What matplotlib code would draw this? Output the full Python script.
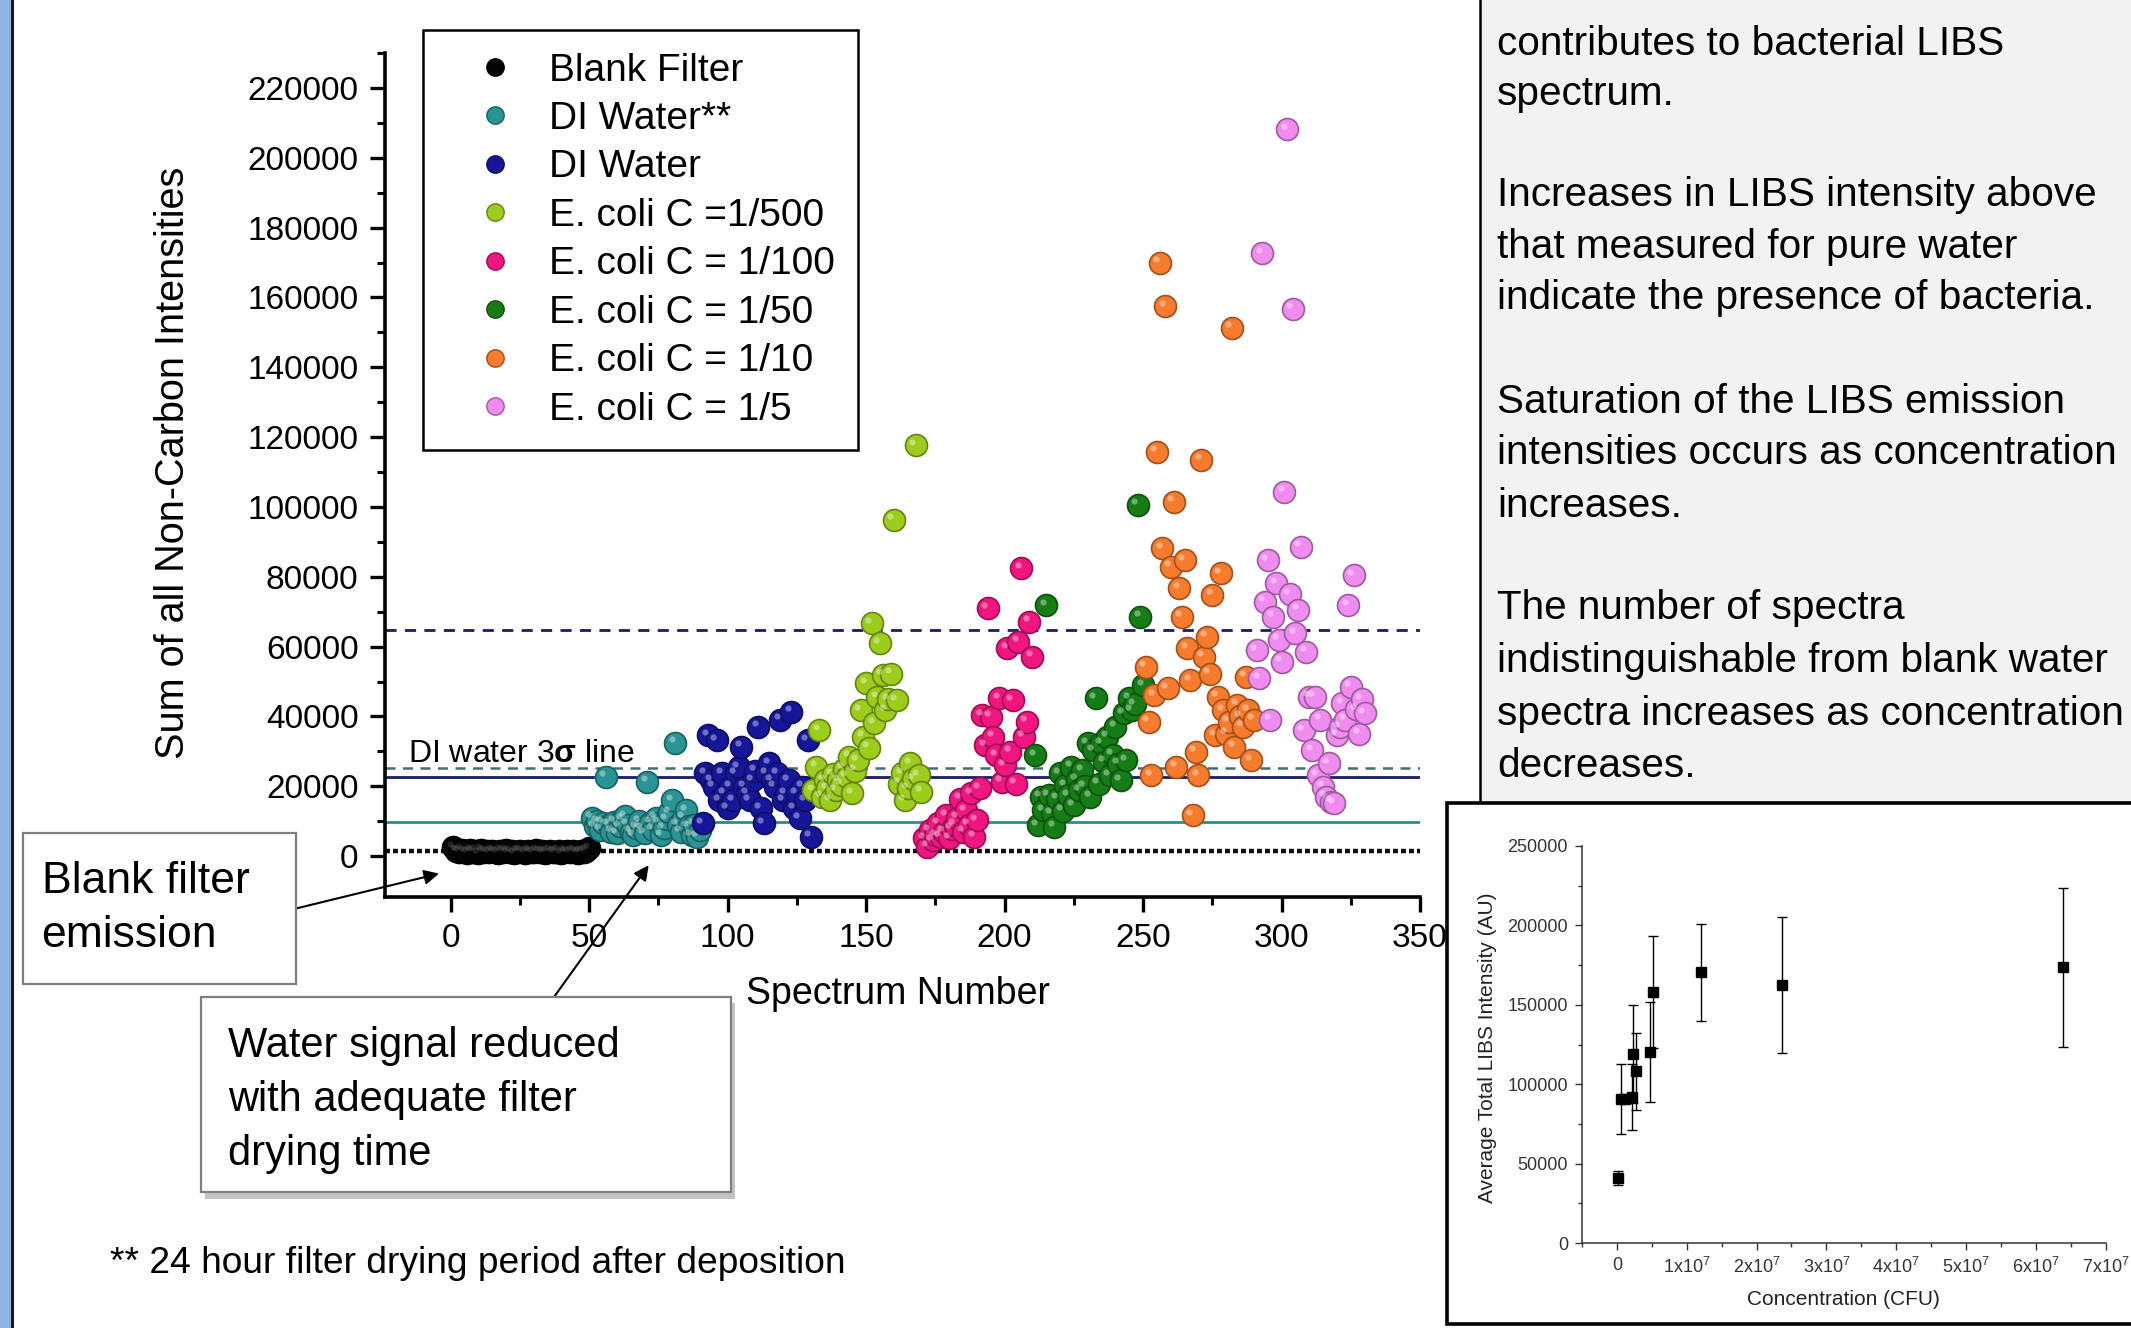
import numpy as np
import matplotlib
matplotlib.use('Agg')
import matplotlib.pyplot as plt
import matplotlib.colors as mcolors
import matplotlib.transforms as mtransforms
from matplotlib.patches import Rectangle
from matplotlib.lines import Line2D
from matplotlib.ticker import FixedLocator, MultipleLocator, FuncFormatter

plt.rcParams['font.family'] = ['Liberation Sans', 'DejaVu Sans']
plt.rcParams['mathtext.fontset'] = 'custom'
plt.rcParams['mathtext.rm'] = 'Liberation Sans'
plt.rcParams['mathtext.it'] = 'Liberation Sans:italic'
plt.rcParams['mathtext.bf'] = 'Liberation Sans:bold'

W, H, DPI = 2131, 1328, 100

# ---------------- data: main scatter ----------------
series_labels = ["Blank Filter", "DI Water**", "DI Water", "E. coli C =1/500",
                 "E. coli C = 1/100", "E. coli C = 1/50", "E. coli C = 1/10", "E. coli C = 1/5"]
series_colors = ['#050505', '#2a9393', '#16169a', '#9ccc1c',
                 '#f0157f', '#167d16', '#f77b2c', '#f08cf0']
series_first_spectrum = [1, 51, 91, 131, 171, 211, 251, 291]

blank_filter = [2600, 1600, 1200, 1900, 1400, 1000, 1700, 1300, 1500, 900,
                1800, 1200, 1400, 1100, 1600, 1300, 1000, 1500, 1200, 1700,
                1100, 1400, 900, 1300, 1600, 1200, 1000, 1500, 1300, 1100,
                1700, 1200, 1400, 1000, 1300, 1600, 1100, 1200, 1500, 900,
                1300, 1400, 1100, 1600, 1200, 1000, 1400, 1300, 1500, 2200]
di_water_dried = [11000, 8500, 10000, 7500, 9500, 22700, 9000, 7000, 9800, 6500,
                  8500, 10500, 11500, 9000, 7000, 6000, 8200, 10000, 8000, 6500,
                  21300, 9500, 7500, 11000, 9500, 6000, 8000, 10500, 12500, 16000,
                  32500, 9000, 7000, 11000, 13200, 8500, 6000, 9000, 5500, 7500]
di_water = [9400, 23700, 34700, 21800, 19900, 33200, 16000, 23700, 18000, 13700,
            19900, 16000, 23700, 25500, 31300, 19900, 18000, 16000, 21800, 24500,
            37000, 13700, 9400, 23700, 26600, 21800, 19900, 23700, 39000, 16000,
            18000, 21800, 41300, 13700, 18000, 10800, 19900, 16000, 33200, 5500]
ecoli_500 = [18900, 25600, 36100, 17000, 21800, 19500, 16000, 23500, 18900, 21800,
             20500, 25000, 22700, 28500, 18000, 24500, 27500, 41800, 34200, 49500,
             31000, 66700, 38000, 45500, 60900, 51900, 41800, 44900, 52300, 96300,
             44700, 20800, 23700, 16000, 19500, 26600, 22000, 117700, 23200, 18500]
ecoli_100 = [5100, 2700, 7400, 4500, 6000, 9400, 5500, 7000, 11700, 5100,
             7900, 9000, 11000, 16500, 7000, 13200, 9000, 18000, 5500, 10300,
             19400, 40400, 31800, 71000, 39900, 34200, 28900, 45200, 21300, 26100,
             59500, 29900, 44700, 20800, 61400, 82400, 34200, 38500, 67100, 57100]
ecoli_50 = [28900, 8900, 17000, 13200, 71900, 17500, 12300, 8400, 16500, 23700,
            13000, 20300, 17500, 25600, 14600, 22000, 18900, 24600, 20000, 32300,
            17000, 30400, 45200, 20800, 32300, 27000, 34200, 23200, 29000, 37000,
            26500, 21800, 40900, 27500, 45200, 41800, 43500, 100600, 68600, 49000]
ecoli_10 = [54200, 38500, 23200, 46100, 115800, 170000, 88200, 157500, 48100, 82900,
            101500, 25600, 76700, 68600, 84800, 59500, 50400, 11700, 29900, 23200,
            113500, 57100, 62800, 52300, 74800, 34700, 45600, 81000, 41800, 35100,
            38500, 151300, 31300, 43300, 40000, 37000, 51400, 41800, 27500, 39000]
ecoli_5 = [59000, 50900, 172700, 72900, 84800, 39000, 68600, 78100, 62000, 55700,
           104400, 208200, 75000, 156700, 63800, 70500, 88600, 36100, 58500, 45600,
           30400, 45600, 23200, 39000, 19900, 17000, 26600, 15600, 15100, 34700,
           36900, 43800, 39100, 71900, 48500, 80500, 42000, 35000, 45000, 41000]
series_values = [blank_filter, di_water_dried, di_water, ecoli_500,
                 ecoli_100, ecoli_50, ecoli_10, ecoli_5]

# horizontal reference levels
blank_level = 1400
di_dried_level = 9650
di_water_level = 22700
di_3sigma_level = 25100
upper_level = 64800

# main axis ticks
x_major_ticks = [0, 50, 100, 150, 200, 250, 300, 350]
y_major_ticks = [0, 20000, 40000, 60000, 80000, 100000, 120000, 140000,
                 160000, 180000, 200000, 220000]

# ---------------- data: inset ----------------
conc_cfu = [0.02e7, 0.06e7, 0.11e7, 0.21e7, 0.23e7, 0.28e7, 0.48e7, 0.52e7, 1.21e7, 2.36e7, 6.39e7]
avg_intensity = [41000, 90500, 90500, 92000, 119000, 108000, 120000, 158000, 170600, 162500, 173500]
avg_err = [4500, 22000, 2500, 21000, 31000, 24500, 31500, 35500, 30500, 43000, 50000]

# ---------------- text ----------------
right_lines = [
    ("contributes to bacterial LIBS", 55),
    ("spectrum.", 105),
    ("Increases in LIBS intensity above", 206),
    ("that measured for pure water", 258),
    ("indicate the presence of bacteria.", 309),
    ("Saturation of the LIBS emission", 413),
    ("intensities occurs as concentration", 464),
    ("increases.", 517),
    ("The number of spectra", 619),
    ("indistinguishable from blank water", 672),
    ("spectra increases as concentration", 725),
    ("decreases.", 777),
]


def fx(px):
    return px / W


def fy(py):
    return 1 - py / H


def darker(c, f=0.65):
    r, g, b = mcolors.to_rgb(c)
    return (r * f, g * f, b * f)


fig = plt.figure(figsize=(W / DPI, H / DPI), dpi=DPI)
fig.patch.set_facecolor('white')

# left decorative bar
fig.add_artist(Rectangle((0, 0), fx(11), 1, transform=fig.transFigure,
                         facecolor='#8eb4e3', edgecolor='none', zorder=5))
fig.add_artist(Line2D([fx(12), fx(12)], [0, 1], transform=fig.transFigure,
                      color='#1a1a1a', lw=2.2, zorder=5))

# right gray panel
fig.add_artist(Rectangle((fx(1480), fy(803)), fx(W - 1480), 803 / H, transform=fig.transFigure,
                         facecolor='#f2f2f2', edgecolor='none', zorder=-2))
fig.add_artist(Line2D([fx(1480), fx(1480)], [1, fy(803)], transform=fig.transFigure,
                      color='black', lw=1.8, zorder=-1))
for line, base in right_lines:
    fig.text(fx(1497), fy(base), line, fontsize=29.2, va='baseline', ha='left', color='black')

# ---------------- main axes ----------------
ax = fig.add_axes([fx(385), fy(897), fx(1420 - 385), (897 - 53) / H])
ax.set_xlim(-23.7, 350)
ax.set_ylim(-11700, 230000)

ax.axhline(blank_level, color='black', lw=3.2, ls=(0, (1.1, 0.7)), zorder=2)
ax.axhline(di_dried_level, color='#2e8b8b', lw=2, zorder=2)
ax.axhline(di_water_level, color='#1b1b6b', lw=2, zorder=2)
ax.axhline(di_3sigma_level, color='#3f6f80', lw=1.8, ls=(0, (4, 3)), zorder=2)
ax.axhline(upper_level, color='#1b1b6b', lw=2, ls=(0, (4, 3)), zorder=2)

hl = ax.transData + mtransforms.ScaledTranslation(-2.5 / 72, 2.5 / 72, fig.dpi_scale_trans)
handles = []
for lab, col, start, vals in zip(series_labels, series_colors, series_first_spectrum, series_values):
    xs = np.arange(start, start + len(vals))
    ax.scatter(xs, vals, s=250, c=col, edgecolors=[darker(col)], linewidths=1.2, zorder=3)
    hl_alpha = 0.12 if col == '#050505' else 0.38
    ax.scatter(xs, vals, s=20, c='white', alpha=hl_alpha, linewidths=0, zorder=3, transform=hl)
    handles.append(Line2D([], [], marker='o', ls='', markersize=12.5,
                          markerfacecolor=col, markeredgecolor=darker(col)))

for s in ['top', 'right']:
    ax.spines[s].set_visible(False)
for s in ['left', 'bottom']:
    ax.spines[s].set_linewidth(2.6)
ax.xaxis.set_major_locator(FixedLocator(x_major_ticks))
ax.xaxis.set_minor_locator(MultipleLocator(25))
ax.yaxis.set_major_locator(FixedLocator(y_major_ticks))
ax.yaxis.set_minor_locator(FixedLocator(np.arange(10000, 230001, 20000)))
ax.tick_params(which='major', direction='out', length=11, width=2.4, labelsize=24, pad=8)
ax.tick_params(which='minor', direction='out', length=6, width=2.2)
ax.set_xlabel('Spectrum Number', fontsize=27)
ax.xaxis.set_label_coords(0.4957, -0.1271)
ax.xaxis.label.set_va('baseline')
ax.set_ylabel('Sum of all Non-Carbon Intensities', fontsize=28.5)
ax.yaxis.set_label_coords(-0.2047, 0.514)
ax.yaxis.label.set_va('center')

ax.text(-15.5, 27000, r'DI water 3$\mathbf{σ}$ line', fontsize=23, va='baseline', ha='left', zorder=4)

leg = ax.legend(handles, series_labels, loc='upper left', bbox_to_anchor=(fx(423), fy(30)),
                bbox_transform=fig.transFigure, frameon=True, fancybox=False, framealpha=1,
                edgecolor='black', fontsize=28, borderpad=0.58, handlelength=2.53,
                handletextpad=0.14, labelspacing=0.32, borderaxespad=0)
leg.get_frame().set_linewidth(1.8)

# annotation boxes
fig.add_artist(Rectangle((fx(23), fy(984)), fx(296 - 23), (984 - 833) / H, transform=fig.transFigure,
                         facecolor='white', edgecolor='#7f7f7f', lw=1.6, zorder=6))
fig.text(fx(41.6), fy(893), 'Blank filter', fontsize=32, va='baseline', zorder=7)
fig.text(fx(41.6), fy(947), 'emission', fontsize=32, va='baseline', zorder=7)

fig.add_artist(Rectangle((fx(205), fy(1199)), fx(731 - 201), (1199 - 1003) / H, transform=fig.transFigure,
                         facecolor='#c4c4c4', edgecolor='none', zorder=5.5))
fig.add_artist(Rectangle((fx(201), fy(1192)), fx(731 - 201), (1192 - 997) / H, transform=fig.transFigure,
                         facecolor='white', edgecolor='#7f7f7f', lw=1.6, zorder=6))
for txt, base in [('Water signal reduced', 1056.7), ('with adequate filter', 1111.2), ('drying time', 1164.7)]:
    fig.text(fx(228), fy(base), txt, fontsize=30, va='baseline', zorder=7)

arrow_kw = dict(arrowstyle='-|>', color='black', lw=1.5, mutation_scale=22, shrinkA=0, shrinkB=0)
a1 = ax.annotate('', xy=(-4.2, -5000), xycoords='data', xytext=(296, H - 908.5),
                 textcoords='figure pixels', arrowprops=arrow_kw, annotation_clip=False)
a2 = ax.annotate('', xy=(71.5, -2600), xycoords='data', xytext=(554, H - 997),
                 textcoords='figure pixels', arrowprops=arrow_kw, annotation_clip=False)
for a in (a1, a2):
    a.arrow_patch.set_clip_on(False)

fig.text(fx(110), fy(1273.4), '** 24 hour filter drying period after deposition', fontsize=26.7, va='baseline')

# ---------------- inset ----------------
fig.add_artist(Rectangle((fx(1447), fy(1324)), fx(2145 - 1447), (1324 - 803) / H, transform=fig.transFigure,
                         facecolor='white', edgecolor='black', lw=2.6, zorder=-0.5))
ax2 = fig.add_axes([fx(1582), fy(1243), fx(2105.5 - 1582), (1243 - 846) / H])
ax2.patch.set_alpha(0)
ax2.errorbar(conc_cfu, avg_intensity, yerr=avg_err, fmt='s', color='black', ms=7.5,
             elinewidth=1, capsize=3.5, capthick=1)
ax2.set_xlim(-5e6, 7e7)
ax2.set_ylim(0, 250000)
for s in ['top', 'right']:
    ax2.spines[s].set_visible(False)
for s in ['left', 'bottom']:
    ax2.spines[s].set_linewidth(1.1)
    ax2.spines[s].set_color('#333333')
ax2.xaxis.set_major_locator(MultipleLocator(1e7))
ax2.xaxis.set_minor_locator(MultipleLocator(5e6))
ax2.yaxis.set_major_locator(MultipleLocator(50000))
ax2.yaxis.set_minor_locator(MultipleLocator(25000))


def sci_fmt(v, pos):
    k = int(round(v / 1e7))
    if k == 0:
        return '0'
    return r'$\mathregular{%dx10^{7}}$' % k


ax2.xaxis.set_major_formatter(FuncFormatter(sci_fmt))
ax2.tick_params(which='major', direction='out', length=5, width=1, labelsize=13,
                colors='#333333', pad=5)
ax2.tick_params(which='minor', direction='out', length=3, width=1, colors='#333333')
ax2.set_xlabel('Concentration (CFU)', fontsize=15, color='#222222')
ax2.xaxis.set_label_coords(0.4986, -0.1557)
ax2.xaxis.label.set_va('baseline')
ax2.set_ylabel('Average Total LIBS Intensity (AU)', fontsize=15, color='#222222')
ax2.yaxis.set_label_coords(-0.18, 0.4924)
ax2.yaxis.label.set_va('center')

fig.savefig('out.png', dpi=DPI, facecolor='white')
